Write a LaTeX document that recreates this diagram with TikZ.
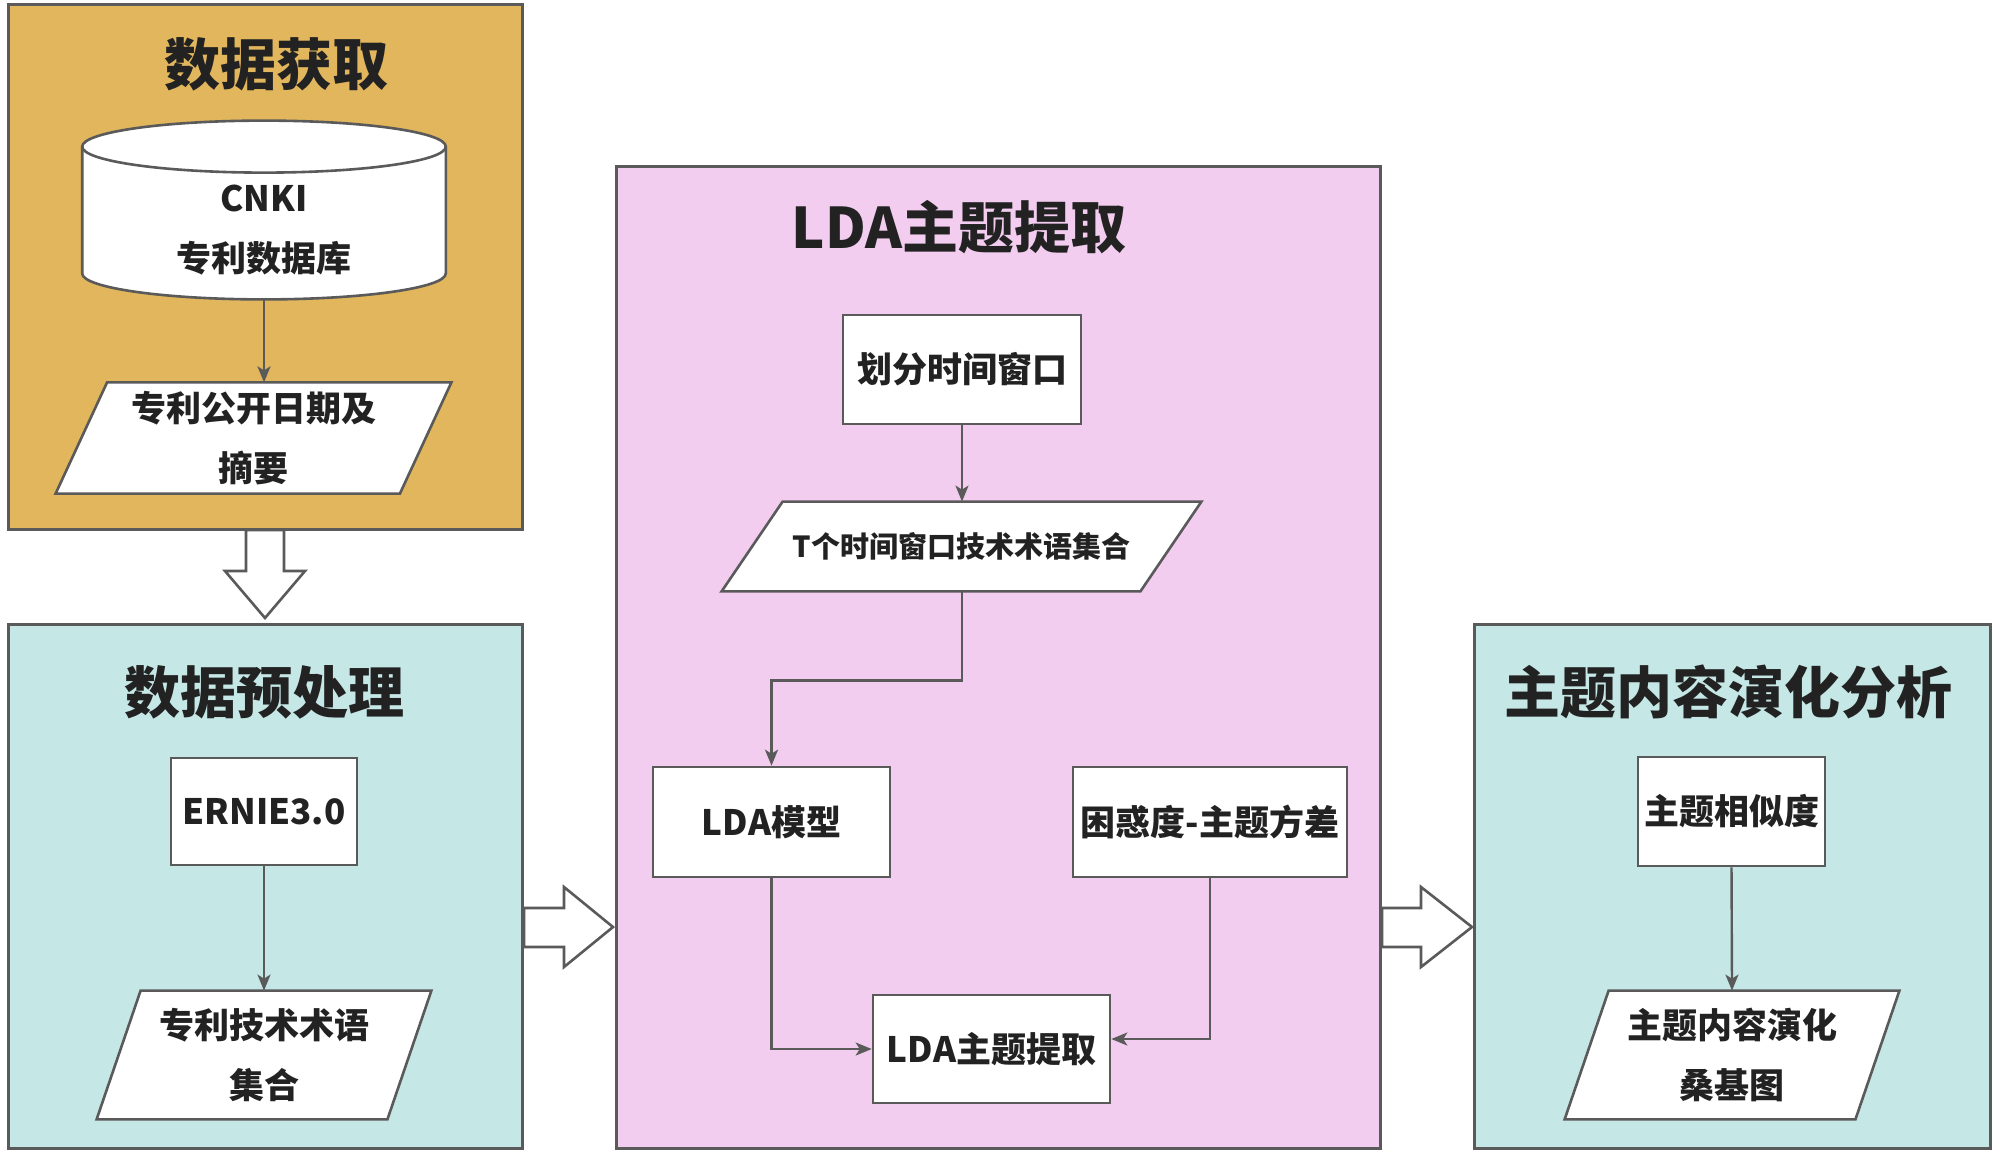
\documentclass[tikz,border=0pt]{standalone}
\usepackage{fontspec}
\setmainfont{Noto Sans CJK SC}
\IfFontExistsTF{Noto Sans CJK SC Black}{\newfontfamily\heavyfont{Noto Sans CJK SC Black}}{\newcommand\heavyfont{\bfseries}}
\usetikzlibrary{arrows.meta}
\pgfdeclarelayer{bg}\pgfdeclarelayer{mid}
\pgfsetlayers{bg,mid,main}
\definecolor{gold}{HTML}{E1B65C}
\definecolor{cyanbg}{HTML}{C5E7E6}
\definecolor{pinkbg}{HTML}{F3CDEF}
\definecolor{edge}{HTML}{5A5A5A}
\definecolor{ink}{HTML}{222222}
\begin{document}
\begin{tikzpicture}[x=0.5pt,y=-0.5pt,
  panel/.style={draw=edge,line width=1.5pt,inner sep=0pt},
  ptitle/.style={font=\fontsize{28pt}{32pt}\selectfont\heavyfont,text=ink},
  rbox/.style={draw=edge,fill=white,line width=1.3pt,inner sep=0pt,align=center,
    font=\fontsize{17.5pt}{30pt}\selectfont\bfseries,text=ink},
  tbox/.style={inner sep=0pt,align=center,font=\fontsize{17.5pt}{30pt}\selectfont\bfseries,text=ink},
  shp/.style={draw=edge,fill=white,line width=1.3pt,line join=miter},
  conn/.style={draw=edge,line width=1.2pt,-{Stealth[length=8pt,width=6.5pt,inset=2pt]}},
  hollow/.style={draw=edge,fill=white,line width=1.3pt,line join=miter}]
\useasboundingbox (0,0) rectangle (2000,1153);
\begin{pgfonlayer}{bg}
\fill[white] (0,0) rectangle (2000,1153);
\node[panel,fill=gold,minimum width=257pt,minimum height=262.5pt] (P1) at (265,266.5) {};
\node[panel,fill=cyanbg,minimum width=257pt,minimum height=262pt] (P2) at (265,886) {};
\node[panel,fill=pinkbg,minimum width=382pt,minimum height=491pt] (P3) at (998,657) {};
\node[panel,fill=cyanbg,minimum width=258pt,minimum height=262pt] (P4) at (1732,886) {};
\end{pgfonlayer}

% titles
\node[ptitle] (T1) at (276,64) {数据获取};
\node[ptitle] (T2) at (264,692) {数据预处理};
\node[ptitle] (T3) at (959,227) {LDA主题提取};
\node[ptitle] (T4) at (1728,692) {主题内容演化分析};

% panel 1
\node[tbox,minimum width=181.5pt,minimum height=68.75pt] (db) at (264,229.75) {CNKI\\专利数据库};
\node[tbox,minimum width=197.5pt,minimum height=55.25pt] (p1) at (253.5,438) {专利公开日期及\\摘要};
% panel 2
\node[rbox,minimum width=93pt,minimum height=53.5pt] (e1) at (264,811.5) {ERNIE3.0};
\node[tbox,minimum width=167pt,minimum height=64pt] (p2) at (264,1055) {专利技术术语\\集合};
% panel 3
\node[rbox,minimum width=119pt,minimum height=54.5pt] (w1) at (962,369.5) {划分时间窗口};
\node[tbox,minimum width=239.5pt,minimum height=44.5pt,font=\fontsize{14.5pt}{18pt}\selectfont\bfseries] (p3) at (961.5,546.5) {T个时间窗口技术术语集合};
\node[rbox,minimum width=118.5pt,minimum height=55pt] (m1) at (771.5,822) {LDA模型};
\node[rbox,minimum width=137pt,minimum height=55pt] (m2) at (1210,822) {困惑度-主题方差};
\node[rbox,minimum width=118.5pt,minimum height=54pt] (m3) at (991.5,1049) {LDA主题提取};
% panel 4
\node[rbox,minimum width=93.5pt,minimum height=54.5pt] (s1) at (1731.5,811.5) {主题相似度};
\node[tbox,minimum width=167pt,minimum height=64pt] (p4) at (1732,1055) {主题内容演化\\桑基图};

\begin{pgfonlayer}{mid}
% cylinder
\path[shp] ([xshift=-90.9pt,yshift=7pt]db.north) -- ([xshift=-90.9pt,yshift=12.75pt]db.south)
  arc[start angle=180,end angle=360,x radius=90.9pt,y radius=13pt]
  -- ([xshift=90.9pt,yshift=7pt]db.north)
  arc[start angle=0,end angle=180,x radius=90.9pt,y radius=13pt] -- cycle;
\draw[shp,fill=none] ([xshift=-90.9pt,yshift=7pt]db.north)
  arc[start angle=180,end angle=360,x radius=90.9pt,y radius=13pt];
% parallelograms
\path[shp] ([xshift=25.75pt]p1.north west) -- (p1.north east) -- ([xshift=-25.75pt]p1.south east) -- (p1.south west) -- cycle;
\path[shp] ([xshift=22pt]p2.north west) -- (p2.north east) -- ([xshift=-22pt]p2.south east) -- (p2.south west) -- cycle;
\path[shp] ([xshift=30.5pt]p3.north west) -- (p3.north east) -- ([xshift=-30.5pt]p3.south east) -- (p3.south west) -- cycle;
\path[shp] ([xshift=22pt]p4.north west) -- (p4.north east) -- ([xshift=-22pt]p4.south east) -- (p4.south west) -- cycle;
\end{pgfonlayer}

% hollow arrows between panels
\path[hollow] (246,530) -- (246,571) -- (225,571) -- (265,618) -- (305,571) -- (284,571) -- (284,530) -- cycle;
\path[hollow] (524,908) -- (564,908) -- (564,887) -- (613,927) -- (564,967) -- (564,947) -- (524,947) -- cycle;
\path[hollow] (1382,908) -- (1421,908) -- (1421,887) -- (1472,927) -- (1421,967) -- (1421,947) -- (1382,947) -- cycle;

% connectors
\draw[conn] (db.south) -- (db.south |- p1.north);
\draw[conn] (e1.south) -- (p2.north);
\draw[conn] (w1.south) -- (w1.south |- p3.north);
\draw[conn] (w1.south |- p3.south) -- ++(0,89) -| (m1.north);
\draw[conn] (m1.south) |- (m3.west);
\draw[conn] (m2.south) |- ([yshift=5pt]m3.east);
\draw[conn] (s1.south) -- (p4.north);
\end{tikzpicture}
\end{document}
